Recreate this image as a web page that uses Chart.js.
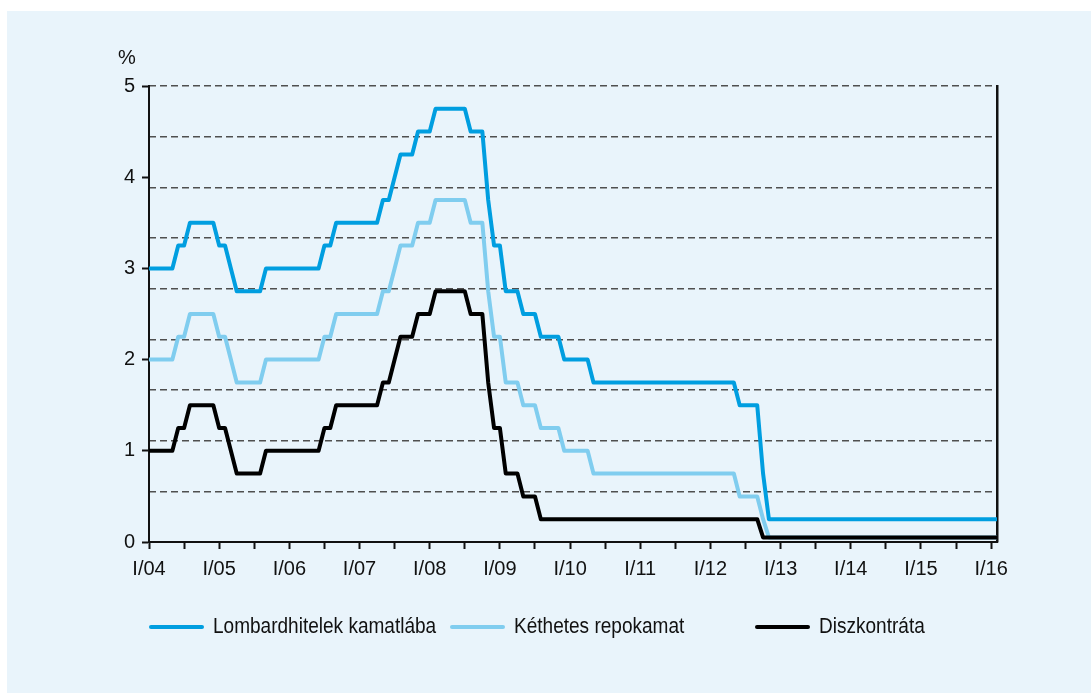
<!DOCTYPE html>
<html>
<head>
<meta charset="utf-8">
<script src="https://cdn.jsdelivr.net/npm/chart.js@4.4.0/dist/chart.umd.min.js"></script>
<style>
  html, body { margin: 0; padding: 0; background: #fff; }
  #wrap { position: relative; width: 1091px; height: 693px; overflow: hidden; }
  #panel { position: absolute; left: 7px; top: 11px; right: 0; bottom: 0; background: #e9f4fb; }
  canvas { position: absolute; left: 0; top: 0; }
  .unit { position: absolute; left: 118px; top: 46px; font: 20px 'Liberation Sans', Arial, sans-serif; color: #111; }
  .legend-item { position: absolute; top: 613px; height: 28px; }
  .legend-line { position: absolute; left: 0; top: 12px; width: 55px; height: 4px; border-radius: 2px; }
  .legend-text { position: absolute; left: 64px; top: 0; line-height: 28px; font: 22px 'Liberation Sans', Arial, sans-serif;
    color: #111; white-space: nowrap; transform: scaleX(0.865); transform-origin: left center; }
</style>
</head>
<body>
<div id="wrap">
  <div id="panel"></div>
  <canvas id="chart" width="1091" height="693"></canvas>
  <div class="unit">%</div>
  <div id="legend"></div>
</div>
<script>
// monthly values, Jan 2004 .. Feb 2016
const months = [];
for (let y = 2004; y <= 2016; y++) {
    for (let m = 1; m <= 12; m++) months.push(y + '-' + String(m).padStart(2, '0'));
}
months.length = 146;

const yearLabels = ['I/04', 'I/05', 'I/06', 'I/07', 'I/08', 'I/09', 'I/10', 'I/11', 'I/12', 'I/13', 'I/14', 'I/15', 'I/16'];
const yTickLabels = ['0', '1', '2', '3', '4', '5'];
const seriesNames = ['Lombardhitelek kamatlába', 'Kéthetes repokamat', 'Diszkontráta'];
const seriesColors = ['#009ee0', '#80cdef', '#000000'];

const lombard = [
    3.0, 3.0, 3.0, 3.0, 3.0, 3.25, 3.25, 3.5, 3.5, 3.5, 3.5, 3.5,
    3.25, 3.25, 3.0, 2.75, 2.75, 2.75, 2.75, 2.75, 3.0, 3.0, 3.0, 3.0,
    3.0, 3.0, 3.0, 3.0, 3.0, 3.0, 3.25, 3.25, 3.5, 3.5, 3.5, 3.5,
    3.5, 3.5, 3.5, 3.5, 3.75, 3.75, 4.0, 4.25, 4.25, 4.25, 4.5, 4.5,
    4.5, 4.75, 4.75, 4.75, 4.75, 4.75, 4.75, 4.5, 4.5, 4.5, 3.75, 3.25,
    3.25, 2.75, 2.75, 2.75, 2.5, 2.5, 2.5, 2.25, 2.25, 2.25, 2.25, 2.0,
    2.0, 2.0, 2.0, 2.0, 1.75, 1.75, 1.75, 1.75, 1.75, 1.75, 1.75, 1.75,
    1.75, 1.75, 1.75, 1.75, 1.75, 1.75, 1.75, 1.75, 1.75, 1.75, 1.75, 1.75,
    1.75, 1.75, 1.75, 1.75, 1.75, 1.5, 1.5, 1.5, 1.5, 0.75, 0.25, 0.25,
    0.25, 0.25, 0.25, 0.25, 0.25, 0.25, 0.25, 0.25, 0.25, 0.25, 0.25, 0.25,
    0.25, 0.25, 0.25, 0.25, 0.25, 0.25, 0.25, 0.25, 0.25, 0.25, 0.25, 0.25,
    0.25, 0.25, 0.25, 0.25, 0.25, 0.25, 0.25, 0.25, 0.25, 0.25, 0.25, 0.25,
    0.25, 0.25
];

const repo = [
    2.0, 2.0, 2.0, 2.0, 2.0, 2.25, 2.25, 2.5, 2.5, 2.5, 2.5, 2.5,
    2.25, 2.25, 2.0, 1.75, 1.75, 1.75, 1.75, 1.75, 2.0, 2.0, 2.0, 2.0,
    2.0, 2.0, 2.0, 2.0, 2.0, 2.0, 2.25, 2.25, 2.5, 2.5, 2.5, 2.5,
    2.5, 2.5, 2.5, 2.5, 2.75, 2.75, 3.0, 3.25, 3.25, 3.25, 3.5, 3.5,
    3.5, 3.75, 3.75, 3.75, 3.75, 3.75, 3.75, 3.5, 3.5, 3.5, 2.75, 2.25,
    2.25, 1.75, 1.75, 1.75, 1.5, 1.5, 1.5, 1.25, 1.25, 1.25, 1.25, 1.0,
    1.0, 1.0, 1.0, 1.0, 0.75, 0.75, 0.75, 0.75, 0.75, 0.75, 0.75, 0.75,
    0.75, 0.75, 0.75, 0.75, 0.75, 0.75, 0.75, 0.75, 0.75, 0.75, 0.75, 0.75,
    0.75, 0.75, 0.75, 0.75, 0.75, 0.5, 0.5, 0.5, 0.5, 0.25, 0.05, 0.05,
    0.05, 0.05, 0.05, 0.05, 0.05, 0.05, 0.05, 0.05, 0.05, 0.05, 0.05, 0.05,
    0.05, 0.05, 0.05, 0.05, 0.05, 0.05, 0.05, 0.05, 0.05, 0.05, 0.05, 0.05,
    0.05, 0.05, 0.05, 0.05, 0.05, 0.05, 0.05, 0.05, 0.05, 0.05, 0.05, 0.05,
    0.05, 0.05
];

const discount = [
    1.0, 1.0, 1.0, 1.0, 1.0, 1.25, 1.25, 1.5, 1.5, 1.5, 1.5, 1.5,
    1.25, 1.25, 1.0, 0.75, 0.75, 0.75, 0.75, 0.75, 1.0, 1.0, 1.0, 1.0,
    1.0, 1.0, 1.0, 1.0, 1.0, 1.0, 1.25, 1.25, 1.5, 1.5, 1.5, 1.5,
    1.5, 1.5, 1.5, 1.5, 1.75, 1.75, 2.0, 2.25, 2.25, 2.25, 2.5, 2.5,
    2.5, 2.75, 2.75, 2.75, 2.75, 2.75, 2.75, 2.5, 2.5, 2.5, 1.75, 1.25,
    1.25, 0.75, 0.75, 0.75, 0.5, 0.5, 0.5, 0.25, 0.25, 0.25, 0.25, 0.25,
    0.25, 0.25, 0.25, 0.25, 0.25, 0.25, 0.25, 0.25, 0.25, 0.25, 0.25, 0.25,
    0.25, 0.25, 0.25, 0.25, 0.25, 0.25, 0.25, 0.25, 0.25, 0.25, 0.25, 0.25,
    0.25, 0.25, 0.25, 0.25, 0.25, 0.25, 0.25, 0.25, 0.25, 0.05, 0.05, 0.05,
    0.05, 0.05, 0.05, 0.05, 0.05, 0.05, 0.05, 0.05, 0.05, 0.05, 0.05, 0.05,
    0.05, 0.05, 0.05, 0.05, 0.05, 0.05, 0.05, 0.05, 0.05, 0.05, 0.05, 0.05,
    0.05, 0.05, 0.05, 0.05, 0.05, 0.05, 0.05, 0.05, 0.05, 0.05, 0.05, 0.05,
    0.05, 0.05
];

const FONT = "'Liberation Sans', Arial, sans-serif";
Chart.defaults.font.family = FONT;
Chart.defaults.font.size = 20;
Chart.defaults.color = '#111';

function lineSet(i, data, order) {
    return {
        label: seriesNames[i],
        data: data,
        borderColor: seriesColors[i],
        backgroundColor: seriesColors[i],
        borderWidth: 4,
        borderJoinStyle: 'round',
        pointRadius: 0,
        tension: 0,
        order: order,
    };
}

const ctx = document.getElementById('chart').getContext('2d');
new Chart(ctx, {
    type: 'line',
    data: {
        labels: months,
        datasets: [
            lineSet(0, lombard, 2),
            lineSet(1, repo, 1),
            lineSet(2, discount, 0),
        ],
    },
    options: {
        responsive: false,
        animation: false,
        devicePixelRatio: 1,
        layout: {padding: {left: 0, right: 0, top: 86, bottom: 0}},
        plugins: {
            legend: {display: false},
            tooltip: {enabled: false},
        },
        scales: {
            x: {
                type: 'category',
                offset: false,
                afterBuildTicks: s => { s.ticks = s.ticks.filter(t => t.value % 6 === 0); },
                afterFit: s => { s.height = 151; },
                ticks: {
                    autoSkip: false,
                    maxRotation: 0,
                    padding: 8,
                    callback: v => (v % 12 === 0 ? yearLabels[v / 12] : ''),
                },
                grid: {drawOnChartArea: false, tickLength: 7, tickWidth: 2, tickColor: '#111'},
                border: {color: '#111', width: 2},
            },
            y: {
                position: 'left',
                min: 0,
                max: 5,
                afterFit: s => { s.width = 149; },
                ticks: {stepSize: 1, padding: 7, callback: v => yTickLabels[v]},
                grid: {drawOnChartArea: false, tickLength: 7, tickWidth: 2, tickColor: '#111'},
                border: {color: '#111', width: 2},
            },
            y2: {
                position: 'right',
                min: 0,
                max: 9,
                afterFit: s => { s.width = 1091 - 997; },
                ticks: {display: false, stepSize: 1},
                grid: {drawOnChartArea: true, drawTicks: false, color: '#4f4f4f', lineWidth: 1.6},
                border: {display: true, color: '#111', width: 2.5, dash: [7, 4]},
            },
        },
    },
});

// legend in fixed columns like the original
const legendLeft = [149, 450, 755];
const legend = document.getElementById('legend');
seriesNames.forEach((name, i) => {
    const item = document.createElement('div');
    item.className = 'legend-item';
    item.style.left = legendLeft[i] + 'px';
    item.innerHTML = '<div class="legend-line" style="background:' + seriesColors[i] + '"></div>' +
        '<span class="legend-text">' + name + '</span>';
    legend.appendChild(item);
});
</script>
</body>
</html>
